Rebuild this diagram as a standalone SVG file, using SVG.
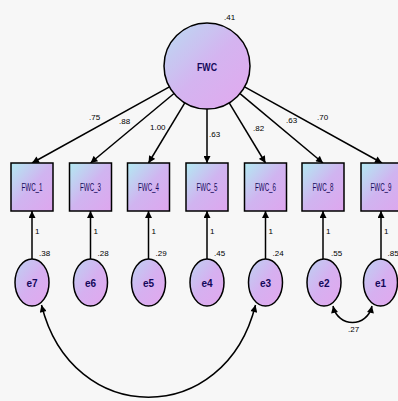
<svg xmlns="http://www.w3.org/2000/svg" width="398" height="401" viewBox="0 0 398 401">
<defs>
<linearGradient id="gc" x1="0" y1="0" x2="1" y2="1">
<stop offset="0" stop-color="#b9dcf2"/><stop offset="0.5" stop-color="#d4b4f0"/><stop offset="1" stop-color="#e2a8ee"/>
</linearGradient>
<linearGradient id="gb" x1="0" y1="0" x2="1" y2="1">
<stop offset="0" stop-color="#b2eaf2"/><stop offset="0.5" stop-color="#d0b4f0"/><stop offset="1" stop-color="#dea6ee"/>
</linearGradient>
<linearGradient id="ge" x1="0" y1="0" x2="1" y2="1">
<stop offset="0" stop-color="#bcd2f2"/><stop offset="0.5" stop-color="#d6b0f0"/><stop offset="1" stop-color="#e2a8ee"/>
</linearGradient>
<marker id="ar" viewBox="0 0 10 10" refX="10" refY="5" markerWidth="9" markerHeight="7" markerUnits="userSpaceOnUse" orient="auto">
<path d="M0,0 L10,5 L0,10 z" fill="#000"/>
</marker>
<marker id="as" viewBox="0 0 10 10" refX="10" refY="5" markerWidth="9" markerHeight="7" markerUnits="userSpaceOnUse" orient="auto-start-reverse">
<path d="M0,0 L10,5 L0,10 z" fill="#000"/>
</marker>
</defs>
<style>
.box{fill:url(#gb);stroke:#000;stroke-width:1.5}
.ell{fill:url(#ge);stroke:#000;stroke-width:1.5}
.lat{fill:url(#gc);stroke:#000;stroke-width:1.5}
.nt{font-family:"Liberation Sans",Arial,sans-serif;font-size:10px;fill:#14085a;text-anchor:middle;dominant-baseline:central}
.et{font-family:"Liberation Sans",Arial,sans-serif;font-size:10px;font-weight:bold;fill:#14085a;text-anchor:middle;dominant-baseline:central}
.lb{font-family:"Liberation Sans",Arial,sans-serif;font-size:8px;fill:#000}
.ln{stroke:#000;stroke-width:1.5;fill:none}
</style>
<rect width="398" height="401" fill="#f7f7f7"/>
<g id="connectors">
<line class="ln" x1="169.4" y1="86.9" x2="32" y2="163" marker-end="url(#ar)"/>
<line class="ln" x1="174" y1="93.5" x2="90.5" y2="163" marker-end="url(#ar)"/>
<line class="ln" x1="184.8" y1="102.8" x2="148.5" y2="163" marker-end="url(#ar)"/>
<line class="ln" x1="207" y1="109" x2="207" y2="163" marker-end="url(#ar)"/>
<line class="ln" x1="229.2" y1="102.8" x2="265.5" y2="163" marker-end="url(#ar)"/>
<line class="ln" x1="240" y1="93.6" x2="323" y2="163" marker-end="url(#ar)"/>
<line class="ln" x1="244.6" y1="86.9" x2="382" y2="163" marker-end="url(#ar)"/>
<line class="ln" x1="32" y1="259" x2="32" y2="211" marker-end="url(#ar)"/>
<line class="ln" x1="90.5" y1="259" x2="90.5" y2="211" marker-end="url(#ar)"/>
<line class="ln" x1="148.5" y1="259" x2="148.5" y2="211" marker-end="url(#ar)"/>
<line class="ln" x1="207" y1="259" x2="207" y2="211" marker-end="url(#ar)"/>
<line class="ln" x1="265.5" y1="259" x2="265.5" y2="211" marker-end="url(#ar)"/>
<line class="ln" x1="323" y1="259" x2="323" y2="211" marker-end="url(#ar)"/>
<line class="ln" x1="381" y1="259" x2="381" y2="211" marker-end="url(#ar)"/>
<path class="ln" d="M41.5,305 C72,428 225,428 255.5,305" marker-start="url(#as)" marker-end="url(#ar)"/>
<path class="ln" d="M333,306 C338,328 367,328 372,306" marker-start="url(#as)" marker-end="url(#ar)"/>
<text class="lb" x="89" y="120">.75</text>
<text class="lb" x="119" y="124">.88</text>
<text class="lb" x="150" y="130">1.00</text>
<text class="lb" x="209" y="137">.63</text>
<text class="lb" x="253" y="131">.82</text>
<text class="lb" x="286" y="123">.63</text>
<text class="lb" x="317" y="120">.70</text>
<text class="lb" x="35" y="234">1</text>
<text class="lb" x="93.5" y="234">1</text>
<text class="lb" x="151.5" y="234">1</text>
<text class="lb" x="210" y="234">1</text>
<text class="lb" x="268.5" y="234">1</text>
<text class="lb" x="326" y="234">1</text>
<text class="lb" x="384" y="234">1</text>
<text class="lb" x="348" y="332">.27</text>
</g>
<g id="FWC"><circle class="lat" cx="207" cy="66" r="43"/><text class="et" x="207" y="67" style="font-size:11px" textLength="20" lengthAdjust="spacingAndGlyphs">FWC</text><text class="lb" x="224" y="20">.41</text></g>
<g id="FWC_1"><rect class="box" x="11" y="163" width="42" height="48"/><text class="nt" x="32" y="187" textLength="21" lengthAdjust="spacingAndGlyphs">FWC_1</text></g>
<g id="FWC_3"><rect class="box" x="69.5" y="163" width="42" height="48"/><text class="nt" x="90.5" y="187" textLength="21" lengthAdjust="spacingAndGlyphs">FWC_3</text></g>
<g id="FWC_4"><rect class="box" x="127.5" y="163" width="42" height="48"/><text class="nt" x="148.5" y="187" textLength="21" lengthAdjust="spacingAndGlyphs">FWC_4</text></g>
<g id="FWC_5"><rect class="box" x="186" y="163" width="42" height="48"/><text class="nt" x="207" y="187" textLength="21" lengthAdjust="spacingAndGlyphs">FWC_5</text></g>
<g id="FWC_6"><rect class="box" x="244.5" y="163" width="42" height="48"/><text class="nt" x="265.5" y="187" textLength="21" lengthAdjust="spacingAndGlyphs">FWC_6</text></g>
<g id="FWC_8"><rect class="box" x="302" y="163" width="42" height="48"/><text class="nt" x="323" y="187" textLength="21" lengthAdjust="spacingAndGlyphs">FWC_8</text></g>
<g id="FWC_9"><rect class="box" x="361" y="163" width="42" height="48"/><text class="nt" x="381" y="187" textLength="21" lengthAdjust="spacingAndGlyphs">FWC_9</text></g>
<g id="e7"><ellipse class="ell" cx="32" cy="282.5" rx="17" ry="23.5"/><text class="et" x="32" y="283">e7</text><text class="lb" x="39" y="256">.38</text></g>
<g id="e6"><ellipse class="ell" cx="90.5" cy="282.5" rx="17" ry="23.5"/><text class="et" x="90.5" y="283">e6</text><text class="lb" x="97.5" y="256">.28</text></g>
<g id="e5"><ellipse class="ell" cx="148.5" cy="282.5" rx="17" ry="23.5"/><text class="et" x="148.5" y="283">e5</text><text class="lb" x="155.5" y="256">.29</text></g>
<g id="e4"><ellipse class="ell" cx="207" cy="282.5" rx="17" ry="23.5"/><text class="et" x="207" y="283">e4</text><text class="lb" x="214" y="256">.45</text></g>
<g id="e3"><ellipse class="ell" cx="265.5" cy="282.5" rx="17" ry="23.5"/><text class="et" x="265.5" y="283">e3</text><text class="lb" x="272.5" y="256">.24</text></g>
<g id="e2"><ellipse class="ell" cx="324" cy="282.5" rx="17" ry="23.5"/><text class="et" x="324" y="283">e2</text><text class="lb" x="331" y="256">.55</text></g>
<g id="e1"><ellipse class="ell" cx="380.5" cy="282.5" rx="17" ry="23.5"/><text class="et" x="380.5" y="283">e1</text><text class="lb" x="387.5" y="256">.85</text></g>
</svg>
